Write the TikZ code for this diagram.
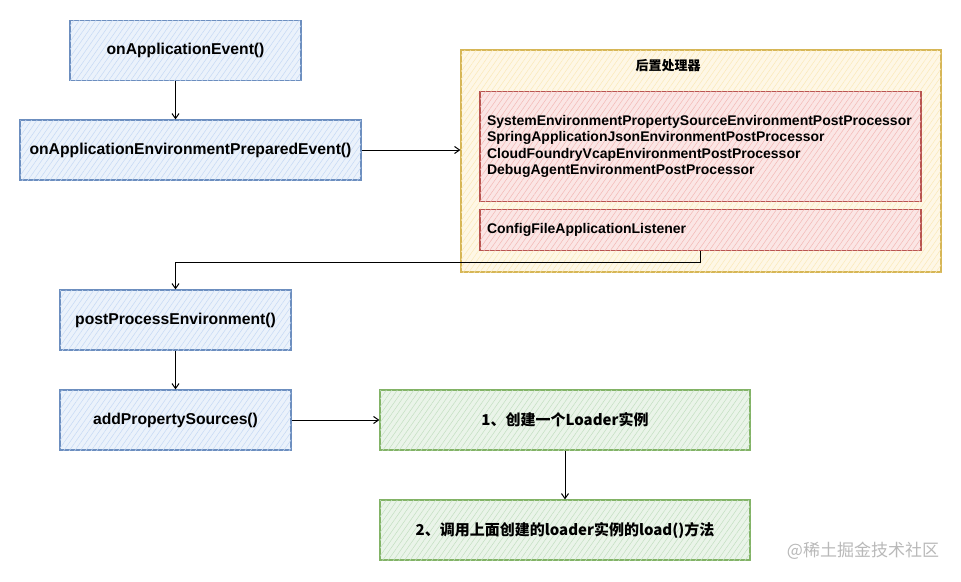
\documentclass[tikz,border=0pt]{standalone}
\usepackage{fontspec}
\setmainfont{Liberation Sans}
\newfontfamily\cjk{Noto Sans CJK SC}
\usepackage{tikz}
\usetikzlibrary{arrows.meta,patterns.meta}
\definecolor{blueFill}{HTML}{C5D9F5}
\definecolor{blueLine}{HTML}{6C8EBF}
\definecolor{redFill}{HTML}{F3B8B5}
\definecolor{redLine}{HTML}{B85450}
\definecolor{yellowFill}{HTML}{FBE9B8}
\definecolor{yellowLine}{HTML}{D6B656}
\definecolor{greenFill}{HTML}{C3DFC1}
\definecolor{greenLine}{HTML}{82B366}
\tikzset{
  box/.style={draw, line width=1.2pt, inner sep=0pt, font=\bfseries\fontsize{15.7}{18}\selectfont},
  hatch/.style={postaction={pattern={Lines[angle=55,distance=4.5pt,line width=0.5pt]}, pattern color=#1}},
  bluebox/.style={box, draw=blueLine, fill=blueFill!35, hatch=blueFill, minimum height=60pt},
  redbox/.style={box, draw=redLine, fill=redFill!35, hatch=redFill, minimum width=441pt,
    text width=427pt, inner xsep=7pt, align=left, font=\bfseries\fontsize{14}{16.5}\selectfont},
  yellowbox/.style={box, draw=yellowLine, fill=yellowFill!35, hatch=yellowFill},
  greenbox/.style={box, draw=greenLine, fill=greenFill!35, hatch=greenFill, minimum width=370pt,
    minimum height=60pt, font=\cjk\bfseries\fontsize{15}{18}\selectfont},
  arr/.style={line width=1pt, -{Straight Barb[length=5pt,width=7pt,line width=1pt]}}
}
\begin{document}
\begin{tikzpicture}[x=1pt, y=-1pt]
  \useasboundingbox[fill=white] (0,0) rectangle (961,581);
  % linke Spalte
  \node[bluebox, minimum width=231pt] (ev) at (185.5,50.5) {onApplicationEvent()};
  \node[bluebox, minimum width=341pt] (prep) at (190.5,150) {onApplicationEnvironmentPreparedEvent()};
  \node[bluebox, minimum width=231pt] (post) at (175.5,320) {postProcessEnvironment()};
  \node[bluebox, minimum width=231pt] (add) at (175.5,420) {addPropertySources()};
  % Nachverarbeitung
  \node[yellowbox, minimum width=480pt, minimum height=222pt] (proc) at (701,161) {};
  \node[font=\cjk\bfseries\fontsize{13}{15}\selectfont] (title) at (668,66) {后置处理器};
  \node[redbox, minimum height=110pt] (pp) at (700.5,146.5) {SystemEnvironmentPropertySourceEnvironmentPostProcessor\\
    SpringApplicationJsonEnvironmentPostProcessor\\
    CloudFoundryVcapEnvironmentPostProcessor\\
    DebugAgentEnvironmentPostProcessor};
  \node[redbox, minimum height=41pt] (cfg) at (700.5,230) {ConfigFileApplicationListener};
  % Loader
  \node[greenbox] (step1) at (565,420) {1、创建一个Loader实例};
  \node[greenbox] (step2) at (565,530) {2、调用上面创建的loader实例的load()方法};
  \node[text=gray!55, font=\cjk\fontsize{17}{19}\selectfont] (mark) at (863,551) {@稀土掘金技术社区};
  % Pfeile
  \draw[arr] ([xshift=-10pt]ev.south) -- ([xshift=-10pt]ev.south |- prep.north);
  \draw[arr] (prep.east) -- (prep.east -| proc.west);
  \draw[arr] (cfg.south) -- ++(0,11) -| (post.north);
  \draw[arr] (post.south) -- (add.north);
  \draw[arr] (add.east) -- (step1.west);
  \draw[arr] (step1.south) -- (step2.north);
\end{tikzpicture}
\end{document}
